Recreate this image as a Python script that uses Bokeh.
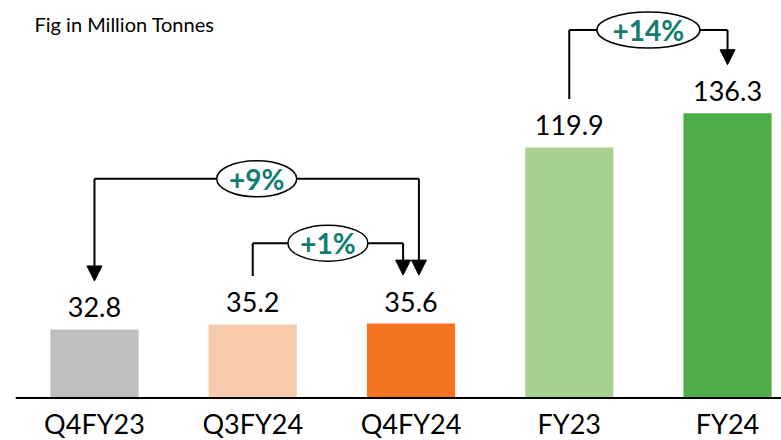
from bokeh.plotting import figure
from bokeh.models import Range1d, ColumnDataSource, Arrow, NormalHead, Label, Span
from bokeh.embed import file_html
from bokeh.resources import INLINE
from bokeh.core.properties import value

# ---- data ----
categories = ["Q4FY23", "Q3FY24", "Q4FY24", "FY23", "FY24"]
volumes = [32.8, 35.2, 35.6, 119.9, 136.3]
growth_labels = ["+9%", "+1%", "+14%"]
growth_from = [0, 1, 3]
growth_to = [2, 2, 4]
unit_note = "Fig in Million Tonnes"

# ---- styles / layout ----
bar_colors = ["#BFBFBF", "#F8CBAD", "#F37321", "#A9D18E", "#4EAD47"]
bracket_levels = [104.9, 74.1, 176.1]      # y of horizontal bracket lines
end_shift = [0.05, -0.05, 0.0]             # horizontal nudge of the arrow end
arrow_both = [True, False, False]
gap = 23.2                                  # bracket start/tip above bar value
FONT = "Lato"
TEAL = "#127C6E"
X0, X1 = -0.499, 4.341
Y0, Y1 = -20.33, 190.2

x = list(range(len(categories)))
p = figure(width=781, height=440, output_backend="svg", toolbar_location=None,
           x_range=Range1d(X0, X1), y_range=Range1d(Y0, Y1),
           x_axis_location=None, y_axis_location=None,
           min_border_left=15, min_border_right=0,
           min_border_top=0, min_border_bottom=0)
p.outline_line_color = None
p.grid.visible = False
p.background_fill_color = "white"

src = ColumnDataSource(dict(x=x, v=volumes, c=bar_colors, cat=categories,
                            zero=[0] * len(x),
                            lab=["%.1f" % v for v in volumes]))
p.vbar(x="x", top="v", width=0.557, fill_color="c", line_color=None, source=src)
p.text(x="x", y="v", text="lab", source=src, text_align="center",
       text_baseline="middle", y_offset=-22, text_font=value(FONT),
       text_font_size="27px", text_color="#000000")

# category axis: baseline + labels
p.add_layout(Span(location=0, dimension="width", line_color="#000000", line_width=2))
p.text(x="x", y="zero", text="cat", source=src, text_align="center",
       text_baseline="middle", y_offset=25.5, text_font=value(FONT),
       text_font_size="27px", text_color="#000000")

# brackets
seg_x0, seg_x1, seg_y = [], [], []
for i, lab in enumerate(growth_labels):
    a = growth_from[i]
    b = growth_to[i] + end_shift[i]
    lvl = bracket_levels[i]
    seg_x0.append(a); seg_x1.append(b); seg_y.append(lvl)
    p.add_layout(Arrow(x_start=b, y_start=lvl, x_end=b,
                       y_end=volumes[growth_to[i]] + gap,
                       line_width=2, line_color="black",
                       end=NormalHead(size=15, fill_color="black", line_color="black")))
    if arrow_both[i]:
        p.add_layout(Arrow(x_start=a, y_start=lvl, x_end=a,
                           y_end=volumes[a] + gap,
                           line_width=2, line_color="black",
                           end=NormalHead(size=15, fill_color="black", line_color="black")))
    else:
        p.segment(x0=[a], y0=[volumes[a] + gap], x1=[a], y1=[lvl],
                  line_width=2, line_color="black")
p.segment(x0=seg_x0, y0=seg_y, x1=seg_x1, y1=seg_y, line_width=2, line_color="black")

mids = [(seg_x0[i] + seg_x1[i]) / 2 for i in range(len(growth_labels))]
esrc = ColumnDataSource(dict(x=mids, y=bracket_levels, t=growth_labels,
                             w=[11 + 23 * len(t) for t in growth_labels]))
p.ellipse(x="x", y="y", width="w", height=36, width_units="screen",
          height_units="screen", fill_color="white", line_color="black",
          line_width=1.5, source=esrc)
p.text(x="x", y="y", text="t", source=esrc, text_align="center",
       text_baseline="middle", text_font=value(FONT), text_font_size="28px",
       text_font_style="bold", text_color=TEAL)

p.add_layout(Label(x=X0 + 19 / 158.25, y=Y1 - 24 / 2.09, text=unit_note,
                   text_font=FONT, text_font_size="20px",
                   text_baseline="middle", text_color="#000000"))

open("out.html", "w").write(file_html(p, INLINE))
